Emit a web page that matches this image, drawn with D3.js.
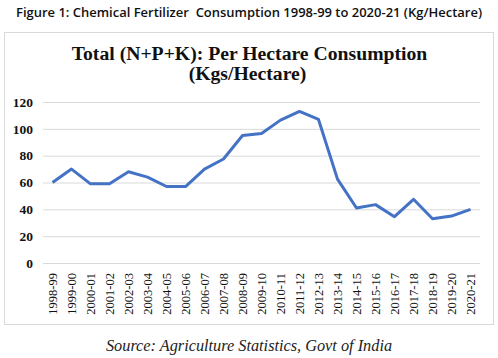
<!DOCTYPE html>
<html>
<head>
<meta charset="utf-8">
<script src="https://cdn.jsdelivr.net/npm/d3@7"></script>
<style>
  body { margin: 0; background: #fff; }
  .serif { font-family: "Liberation Serif", "Times New Roman", Tinos, "DejaVu Serif", serif; }
</style>
</head>
<body>
<svg id="chartSVG" width="498" height="358"></svg>
<script>
// fiscal years along the x axis
const years = ["1998-99", "1999-00", "2000-01", "2001-02", "2002-03", "2003-04", "2004-05",
    "2005-06", "2006-07", "2007-08", "2008-09", "2009-10", "2010-11", "2011-12", "2012-13",
    "2013-14", "2014-15", "2015-16", "2016-17", "2017-18", "2018-19", "2019-20", "2020-21"];
// total N+P+K kg per hectare
const consumption = [60, 70, 59, 59, 68, 64, 57, 57, 70, 77.5, 95, 96.5, 106.5, 113, 107,
    62.5, 41, 43.5, 34.5, 47.5, 33, 35, 40];
const yTicks = [0, 20, 40, 60, 80, 100, 120];

var svg = d3.select("#chartSVG");

/* ---------- Captions ---------- */
svg.append("text")
    .text("Figure 1: Chemical Fertilizer\u00a0 Consumption 1998-99 to 2020-21 (Kg/Hectare)")
    .attr("x", 249).attr("y", 17)
    .attr("text-anchor", "middle")
    .attr("font-family", "'Open Sans', sans-serif")
    .attr("font-weight", 600)
    .attr("font-size", 13)
    .attr("textLength", 466)
    .attr("lengthAdjust", "spacingAndGlyphs")
    .attr("fill", "#111");

// chart frame
svg.append("rect")
    .attr("x", 4.5).attr("y", 32.5)
    .attr("width", 489).attr("height", 292)
    .attr("fill", "#fff")
    .attr("stroke", "#d9d9d9");

var chartTitle = svg.append("g")
    .attr("class", "serif")
    .attr("font-weight", "bold")
    .attr("font-size", 19.7)
    .attr("text-anchor", "middle")
    .attr("fill", "#111");
chartTitle.append("text").text("Total (N+P+K): Per Hectare Consumption")
    .attr("x", 249.5).attr("y", 60);
chartTitle.append("text").text("(Kgs/Hectare)")
    .attr("x", 247.5).attr("y", 80);

svg.append("text")
    .attr("class", "serif")
    .text("Source: Agriculture Statistics, Govt of India")
    .attr("x", 249).attr("y", 351)
    .attr("text-anchor", "middle")
    .attr("font-style", "italic")
    .attr("font-size", 16.3)
    .attr("fill", "#222");

/* ---------- Scales and Axis ---------- */
var plotLeft = 43, plotRight = 480;
var xScale = d3.scalePoint()
    .domain(years)
    .range([plotLeft, plotRight])
    .padding(0.5);
var yScale = d3.scaleLinear()
    .domain([0, 120])
    .range([263, 102]);

var grid = svg.append("g");
grid.selectAll("line")
    .data(yTicks)
    .enter().append("line")
    .attr("x1", plotLeft).attr("x2", plotRight)
    .attr("y1", d => yScale(d) + 0.5).attr("y2", d => yScale(d) + 0.5)
    .attr("stroke", "#d9d9d9")
    .attr("stroke-width", 1);

var yAxis = d3.axisLeft(yScale).tickValues(yTicks).tickSize(0).tickPadding(0);
var yG = svg.append("g")
    .attr("transform", "translate(33,0)")
    .call(yAxis);
yG.select(".domain").remove();
yG.attr("font-family", null).attr("font-size", null);
yG.selectAll("text")
    .attr("class", "serif")
    .attr("font-weight", "bold")
    .attr("font-size", 13.5)
    .attr("fill", "#111");

var xAxis = d3.axisBottom(xScale).tickSize(0).tickPadding(0);
var xG = svg.append("g")
    .attr("transform", "translate(0,263)")
    .call(xAxis);
xG.select(".domain").remove();
xG.attr("font-family", null).attr("font-size", null);
xG.selectAll("text")
    .attr("class", "serif")
    .attr("font-size", 12.5)
    .attr("fill", "#111")
    .attr("text-anchor", "end")
    .attr("dy", "0.35em")
    .attr("transform", "translate(0,10) rotate(-90)")
    .attr("y", 0).attr("x", 0);

/* ---------- Line ---------- */
var line = d3.line()
    .x((d, i) => xScale(years[i]))
    .y(d => yScale(d));
svg.append("path")
    .datum(consumption)
    .attr("d", line)
    .attr("fill", "none")
    .attr("stroke", "#4472C4")
    .attr("stroke-width", 3)
    .attr("stroke-linejoin", "round");
</script>
</body>
</html>
